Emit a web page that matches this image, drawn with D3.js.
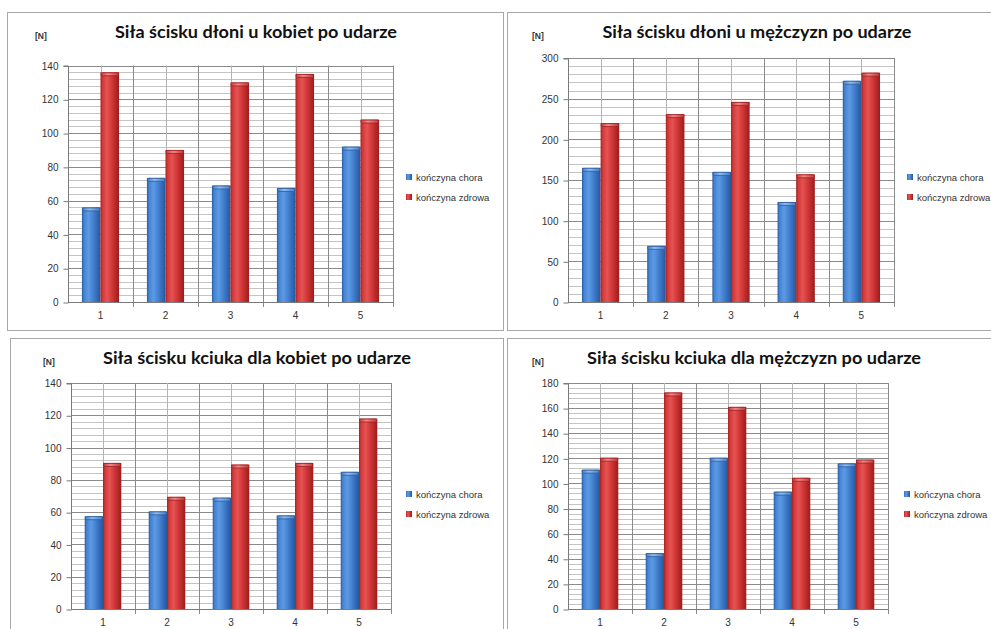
<!DOCTYPE html>
<html>
<head>
<meta charset="utf-8">
<script src="https://cdn.jsdelivr.net/npm/d3@7/dist/d3.min.js"></script>
<style>
html,body{margin:0;padding:0;background:#fff;overflow:hidden;}
svg{display:block;}
</style>
</head>
<body>
<svg id="chart" width="991" height="629"></svg>
<script>
// ---- data ----
const categories = ["1", "2", "3", "4", "5"];
const seriesNames = ["kończyna chora", "kończyna zdrowa"];
const unitLabel = "[N]";

const titles = [
  "Siła ścisku dłoni u kobiet po udarze",
  "Siła ścisku dłoni u mężczyzn po udarze",
  "Siła ścisku kciuka dla kobiet po udarze",
  "Siła ścisku kciuka dla mężczyzn po udarze"
];

const dloniKobietChora   = [56, 73.5, 69, 67.5, 92];
const dloniKobietZdrowa  = [136, 90, 130, 135, 108];
const dloniMezczyznChora  = [165, 69, 160, 123, 272];
const dloniMezczyznZdrowa = [220, 231, 246, 157, 282];
const kciukaKobietChora   = [57.5, 60.5, 69, 58, 85];
const kciukaKobietZdrowa  = [90.5, 69.5, 89.5, 90.5, 118];
const kciukaMezczyznChora  = [111, 44.5, 120.5, 93.5, 116];
const kciukaMezczyznZdrowa = [120.5, 172.5, 161, 104.5, 119];

const yMax = [140, 300, 140, 180];
const yStep = [20, 50, 20, 20];

// ---- layout ----
const panels = [
  {box:[7,12,496,318], x0:68, x1:393, yT:65.5, y0:302, tx:256, ty:38, tw:282, nx:35, ny:39, lx:409, ly:177, xl:320,
   chora:dloniKobietChora, zdrowa:dloniKobietZdrowa, max:yMax[0], step:yStep[0], title:titles[0]},
  {box:[507,12,500,318], x0:568, x1:894, yT:58, y0:302, tx:757, ty:38, tw:309, nx:532, ny:39, lx:910, ly:177, xl:320,
   chora:dloniMezczyznChora, zdrowa:dloniMezczyznZdrowa, max:yMax[1], step:yStep[1], title:titles[1]},
  {box:[10,338,493,300], x0:71, x1:391, yT:383, y0:609, tx:257, ty:364, tw:308, nx:43, ny:365, lx:409, ly:494, xl:627,
   chora:kciukaKobietChora, zdrowa:kciukaKobietZdrowa, max:yMax[2], step:yStep[2], title:titles[2]},
  {box:[507,338,500,300], x0:568, x1:888, yT:383, y0:609, tx:754, ty:364, tw:334, nx:532, ny:365, lx:907, ly:494, xl:627,
   chora:kciukaMezczyznChora, zdrowa:kciukaMezczyznZdrowa, max:yMax[3], step:yStep[3], title:titles[3]}
];

const svg = d3.select("#chart");
const defs = svg.append("defs");

function grad(id, stops) {
  const g = defs.append("linearGradient").attr("id", id).attr("x1", "0%").attr("x2", "100%").attr("y1", "0%").attr("y2", "0%");
  stops.forEach(s => g.append("stop").attr("offset", s[0]).attr("stop-color", s[1]));
}
grad("gBlue", [["0%","#2c5c9e"],["12%","#4485d4"],["35%","#5d9ae4"],["65%","#3f7ccc"],["100%","#28569a"]]);
grad("gRed",  [["0%","#a62222"],["12%","#d43a3a"],["35%","#e55353"],["65%","#cf3434"],["100%","#9a1d1d"]]);
grad("gBlueCap", [["0%","#4a82c8"],["40%","#8fbef0"],["100%","#4a80c4"]]);
grad("gRedCap",  [["0%","#c84040"],["40%","#f08a8a"],["100%","#c43c3c"]]);

const fills = ["url(#gBlue)", "url(#gRed)"];
const caps = ["url(#gBlueCap)", "url(#gRedCap)"];
const capStroke = ["#2d5c9c", "#9c2222"];

panels.forEach(p => {
  const g = svg.append("g");
  // panel border
  g.append("rect").attr("x", p.box[0] + 0.5).attr("y", p.box[1] + 0.5)
    .attr("width", p.box[2]).attr("height", p.box[3])
    .attr("fill", "#fff").attr("stroke", "#a8a8a8");

  const x = d3.scaleBand().domain(categories).range([p.x0, p.x1]).paddingInner(0).paddingOuter(0);
  const B = x.bandwidth();
  const xs = d3.scaleBand().domain(seriesNames).range([B * 1.5 / 7, B - B * 1.5 / 7]).padding(0);
  const y = d3.scaleLinear().domain([0, p.max]).range([p.y0, p.yT]);

  // minor horizontal gridlines
  const minor = d3.range(0, p.max + 1e-9, p.step / 5);
  g.append("g").selectAll("line").data(minor).join("line")
    .attr("x1", p.x0).attr("x2", p.x1)
    .attr("y1", d => Math.round(y(d)) + 0.5).attr("y2", d => Math.round(y(d)) + 0.5)
    .attr("stroke", "#c4c4c4").attr("stroke-width", 1);
  // major
  const major = d3.range(0, p.max + 1e-9, p.step);
  g.append("g").selectAll("line").data(major).join("line")
    .attr("x1", p.x0).attr("x2", p.x1)
    .attr("y1", d => Math.round(y(d)) + 0.5).attr("y2", d => Math.round(y(d)) + 0.5)
    .attr("stroke", "#8a8a8a").attr("stroke-width", 1);
  // vertical: band centers (light), boundaries (dark)
  g.append("g").selectAll("line").data(categories).join("line")
    .attr("x1", d => Math.round(x(d) + B / 2) + 0.5).attr("x2", d => Math.round(x(d) + B / 2) + 0.5)
    .attr("y1", p.yT).attr("y2", p.y0)
    .attr("stroke", "#b4b4b4");
  const bounds = categories.map(c => x(c) + B);
  g.append("g").selectAll("line").data(bounds).join("line")
    .attr("x1", d => Math.round(d) + 0.5).attr("x2", d => Math.round(d) + 0.5)
    .attr("y1", p.yT).attr("y2", p.y0 + 5)
    .attr("stroke", "#8a8a8a");

  // bars
  const rows = categories.map((c, i) => [
    {c, s: 0, v: p.chora[i]},
    {c, s: 1, v: p.zdrowa[i]}
  ]).flat();
  const bw = xs.bandwidth();
  const bars = g.append("g").selectAll("g").data(rows).join("g");
  bars.append("rect")
    .attr("x", d => x(d.c) + xs(seriesNames[d.s]))
    .attr("y", d => y(d.v))
    .attr("width", bw)
    .attr("height", d => p.y0 - y(d.v))
    .attr("fill", d => fills[d.s]);
  bars.append("rect")
    .attr("x", d => x(d.c) + xs(seriesNames[d.s]) + 0.5)
    .attr("y", d => y(d.v) + 0.5)
    .attr("width", bw - 1)
    .attr("height", 3)
    .attr("rx", 1.5)
    .attr("fill", d => caps[d.s])
    .attr("stroke", d => capStroke[d.s]).attr("stroke-width", 0.8);

  // y axis
  const yAxis = d3.axisLeft(y).tickValues(major).tickSize(5).tickPadding(5).tickFormat(d3.format("d"));
  const ya = g.append("g").attr("transform", `translate(${p.x0 + 0.5},0.5)`).call(yAxis);
  ya.select(".domain").attr("stroke", "#7a7a7a").attr("d", `M-5,${p.yT}H0V${p.y0}`);
  ya.selectAll(".tick line").attr("stroke", "#7a7a7a");
  ya.selectAll(".tick text").attr("font-family", "Liberation Sans, Arial, sans-serif").attr("font-size", 10).attr("fill", "#333");

  // x axis
  const xAxis = d3.axisBottom(x).tickSize(0).tickPadding(9);
  const xa = g.append("g").attr("transform", `translate(0,${p.y0 + 0.5})`).call(xAxis);
  xa.select(".domain").attr("stroke", "#7a7a7a").attr("d", `M${p.x0},0H${p.x1}`);
  xa.selectAll(".tick text").attr("font-family", "Liberation Sans, Arial, sans-serif").attr("font-size", 10).attr("fill", "#333");

  // title
  g.append("text").attr("x", p.tx).attr("y", p.ty).attr("text-anchor", "middle")
    .attr("font-family", "Lato, 'Open Sans', sans-serif").attr("font-weight", 700).attr("font-size", 17)
    .attr("fill", "#111").attr("textLength", p.tw).attr("lengthAdjust", "spacingAndGlyphs")
    .text(p.title);
  // unit label
  g.append("text").attr("x", p.nx).attr("y", p.ny)
    .attr("font-family", "Liberation Sans, Arial, sans-serif").attr("font-weight", 700).attr("font-size", 8.5)
    .attr("fill", "#333").text(unitLabel);

  // legend
  const lg = g.append("g").selectAll("g").data(seriesNames).join("g")
    .attr("transform", (d, i) => `translate(${p.lx},${p.ly + i * 20})`);
  lg.append("rect").attr("x", -3).attr("y", -3).attr("width", 6).attr("height", 6)
    .attr("fill", (d, i) => fills[i]);
  lg.append("text").attr("x", 7).attr("y", 3.5)
    .attr("font-family", "Liberation Sans, Arial, sans-serif").attr("font-size", 9.5).attr("fill", "#333")
    .text(d => d);
});
</script>
</body>
</html>
